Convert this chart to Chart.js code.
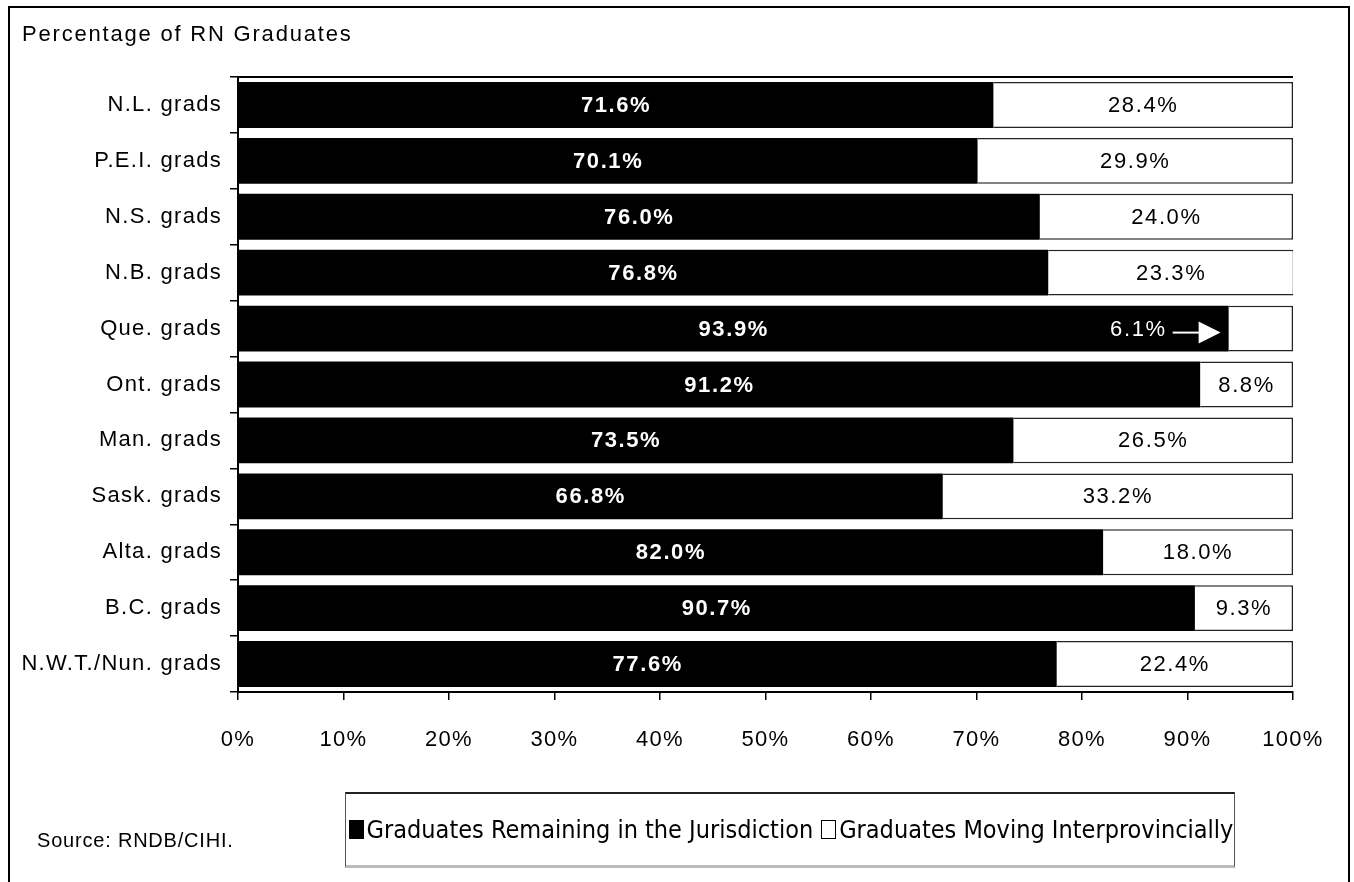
<!DOCTYPE html>
<html>
<head>
<meta charset="utf-8">
<script src="https://cdn.jsdelivr.net/npm/chart.js@4/dist/chart.umd.min.js"></script>
<style>
  body { margin: 0; background: #fff; }
  #wrap { position: relative; width: 1354px; height: 882px; overflow: hidden; font-family: "Liberation Sans", Arial, sans-serif; }
  #frame { position: absolute; left: 8px; top: 6px; width: 1338px; height: 900px; border: 2px solid #000; }
  #title { position: absolute; left: 22px; top: 21px; font-size: 22px; letter-spacing: 1.8px; color: #000; }
  #source { position: absolute; left: 37px; top: 829px; font-size: 20px; letter-spacing: 0.8px; color: #000; }
  #legend { position: absolute; left: 345px; top: 792px; width: 890px; height: 76px; border: 1px solid #555; border-top: 2px solid #222; border-bottom: 3px solid #bbb; box-sizing: border-box; display: flex; align-items: center; justify-content: center; font-family: "Liberation Sans Narrow", "DejaVu Sans Condensed", sans-serif; font-size: 25px; color: #000; white-space: nowrap; }
  .sw { display: inline-block; width: 13px; height: 17px; border: 1px solid #000; margin: 0 3px 0 2px; vertical-align: -2px; }
  canvas { position: absolute; left: 0; top: 0; }
</style>
</head>
<body>
<div id="wrap">
  <div id="frame"></div>
  <canvas id="chart" width="1354" height="882"></canvas>
  <div id="title">Percentage of RN Graduates</div>
  <div id="source">Source: RNDB/CIHI.</div>
  <div id="legend"></div>
</div>
<script>
const categories = [
  "N.L. grads", "P.E.I. grads", "N.S. grads", "N.B. grads", "Que. grads",
  "Ont. grads", "Man. grads", "Sask. grads", "Alta. grads", "B.C. grads",
  "N.W.T./Nun. grads"
];
const remaining = [71.6, 70.1, 76.0, 76.8, 93.9, 91.2, 73.5, 66.8, 82.0, 90.7, 77.6];
const moving = [28.4, 29.9, 24.0, 23.3, 6.1, 8.8, 26.5, 33.2, 18.0, 9.3, 22.4];
const seriesNames = ["Graduates Remaining in the Jurisdiction", "Graduates Moving Interprovincially"];

document.getElementById("legend").innerHTML =
  '<span class="sw" style="background:#000"></span>' + seriesNames[0] +
  ' <span class="sw" style="background:#fff;margin-left:8px"></span>' + seriesNames[1];

const fontFamily = '"Liberation Sans", Arial, sans-serif';

const barLabels = {
  id: "barLabels",
  afterDatasetsDraw(chart) {
    const ctx = chart.ctx;
    ctx.save();
    ctx.letterSpacing = "1.6px";
    ctx.textBaseline = "middle";
    chart.data.datasets.forEach((ds, di) => {
      const meta = chart.getDatasetMeta(di);
      meta.data.forEach((bar, i) => {
        const v = ds.data[i];
        const text = v.toFixed(1) + "%";
        if (di === 0) {
          ctx.fillStyle = "#fff";
          ctx.font = "bold 22px " + fontFamily;
          ctx.textAlign = "center";
          ctx.fillText(text, (bar.x + bar.base) / 2, bar.y + 1);
        } else if (v < 7) {
          // too small: label sits inside the black bar with an arrow
          const b = bar.base;
          ctx.fillStyle = "#fff";
          ctx.font = "22px " + fontFamily;
          ctx.textAlign = "right";
          ctx.fillText(text, b - 62, bar.y + 1);
          ctx.strokeStyle = "#fff";
          ctx.lineWidth = 2;
          ctx.beginPath();
          ctx.moveTo(b - 56, bar.y + 4);
          ctx.lineTo(b - 28, bar.y + 4);
          ctx.stroke();
          ctx.beginPath();
          ctx.moveTo(b - 30, bar.y - 7);
          ctx.lineTo(b - 8, bar.y + 4);
          ctx.lineTo(b - 30, bar.y + 15);
          ctx.closePath();
          ctx.fill();
        } else {
          ctx.fillStyle = "#000";
          ctx.font = "22px " + fontFamily;
          ctx.textAlign = "center";
          ctx.fillText(text, (bar.x + bar.base) / 2, bar.y + 1);
        }
      });
    });
    ctx.restore();
  },
};

const topLine = {
  id: "topLine",
  afterDraw(chart) {
    const { ctx, chartArea } = chart;
    ctx.save();
    ctx.strokeStyle = "#000";
    ctx.lineWidth = 2;
    ctx.beginPath();
    ctx.moveTo(chartArea.left, chartArea.top);
    ctx.lineTo(chartArea.right, chartArea.top);
    ctx.stroke();
    ctx.restore();
  },
};

const spacing = {
  id: "spacing",
  beforeDraw(chart) {
    chart.ctx.letterSpacing = "1.3px";
  },
};

new Chart(document.getElementById("chart").getContext("2d"), {
  type: "bar",
  data: {
    labels: categories,
    datasets: [
      {
        label: seriesNames[0],
        data: remaining,
        backgroundColor: "#000",
        borderWidth: 0,
        barPercentage: 0.82,
        categoryPercentage: 1,
      },
      {
        label: seriesNames[1],
        data: moving,
        backgroundColor: "#fff",
        borderColor: "#222",
        borderWidth: 1.5,
        barPercentage: 0.82,
        categoryPercentage: 1,
      },
    ],
  },
  options: {
    indexAxis: "y",
    responsive: false,
    animation: false,
    layout: { padding: { top: 77, right: 61, left: 0, bottom: 0 } },
    plugins: {
      legend: { display: false },
      tooltip: { enabled: false },
    },
    scales: {
      x: {
        stacked: true,
        min: 0,
        max: 100,
        ticks: {
          stepSize: 10,
          color: "#000",
          padding: 27,
          font: { family: fontFamily, size: 22 },
          callback: (v) => v + "%",
        },
        grid: { drawOnChartArea: false, tickLength: 8, color: "#000", lineWidth: 1.5 },
        border: { color: "#000", width: 2 },
        afterFit: (s) => { s.height = 190; },
      },
      y: {
        stacked: true,
        ticks: {
          color: "#000",
          padding: 8,
          font: { family: fontFamily, size: 22 },
        },
        grid: { drawOnChartArea: false, tickLength: 8, color: "#000", lineWidth: 1.5, offset: true },
        border: { color: "#000", width: 2 },
        afterFit: (s) => { s.width = 238; },
      },
    },
  },
  plugins: [spacing, barLabels, topLine],
});
</script>
</body>
</html>
